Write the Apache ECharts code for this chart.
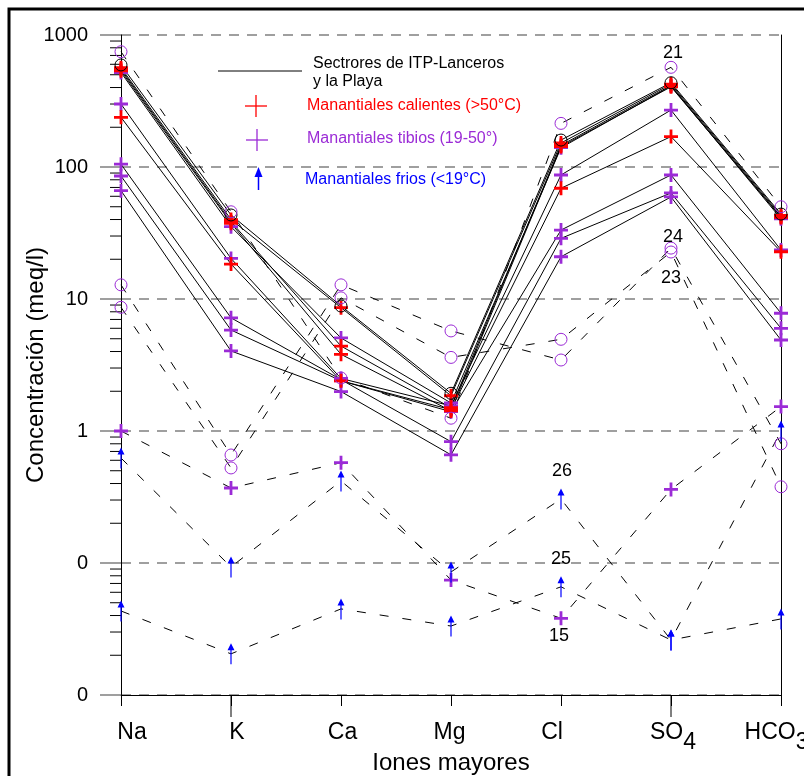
<!DOCTYPE html>
<html>
<head>
<meta charset="utf-8">
<script src="https://cdn.jsdelivr.net/npm/echarts@6/dist/echarts.min.js"></script>
<style>
html, body { margin: 0; padding: 0; background: #fff; overflow: hidden; }
#chart { width: 804px; height: 776px; }
</style>
</head>
<body>
<div id="chart"></div>
<script>
// Major ions, in Schoeller order
const ions = ['Na', 'K', 'Ca', 'Mg', 'Cl', 'SO4', 'HCO3'];

// Sector ITP-Lanceros / La Playa (solid lines), meq/l
const sectorRef = [593, 43.3, 8.85, 1.93, 160, 435, 44];
const hotA = [565, 40, 8.6, 1.85, 152, 425, 43];
const hotB = [550, 38.5, 4.4, 1.5, 146, 415, 42];
const hotC = [535, 37.5, 3.81, 1.42, 143, 405, 41.5];
const hotD = [238, 18.4, 2.4, 1.45, 69, 170, 22.8];
const warmA = [520, 35.3, 5.07, 1.63, 140, 410, 40.5];
const warmB = [300, 20.3, 2.5, 1.55, 87, 270, 23.5];
const warmC = [105, 7.2, 2.45, 0.83, 28.8, 63.6, 6.0];
const warmD = [85.5, 5.82, 2.4, 1.4, 33.3, 87, 7.8];
const warmE = [66.2, 4.04, 1.99, 0.66, 20.9, 59.3, 4.89];

// Springs outside the sector (dashed lines), meq/l
const outerA = [747, 45.8, 2.52, 1.25, 214, 569, 50];
const outerB = [12.8, 0.658, 12.8, 5.73, 3.45, 24.3, 0.80];
const outerC = [8.65, 0.525, 10.2, 3.61, 4.95, 22.7, 0.378];
const warmOut = [1.0, 0.37, 0.575, 0.0743, 0.0381, 0.361, 1.53];
const coldA = [0.624, 0.0933, 0.418, 0.0855, 0.305, 0.0261, 1.0];
const coldB = [0.0433, 0.0205, 0.0449, 0.0333, 0.066, 0.0261, 0.0377];

// Sample numbers written next to a point
const tagOuterA = '21';
const tagOuterB = '24';
const tagOuterC = '23';
const tagWarmOut = '15';
const tagColdA = '26';
const tagColdB = '25';

const FONT = 'Liberation Sans, Arial, Helvetica, sans-serif';
const RED = '#ff0000';
const PURPLE = '#9b2bd6';
const BLUE = '#0000ff';
const GRID_GRAY = '#808080';

const CROSS = 'path://M4,0H6V4H10V6H6V10H4V6H0V4H4Z';
const ARROW = 'path://M3.5,0L7,7H4.1V21H2.9V7H0Z';

const marks = {
  hot:    { symbol: CROSS, symbolSize: 14, itemStyle: { color: RED } },
  warm:   { symbol: CROSS, symbolSize: 14, itemStyle: { color: PURPLE } },
  ring:   { symbol: 'circle', symbolSize: 12, itemStyle: { color: 'rgba(0,0,0,0)', borderColor: PURPLE, borderWidth: 1 } },
  ringK:  { symbol: 'circle', symbolSize: 12, itemStyle: { color: 'rgba(0,0,0,0)', borderColor: '#000', borderWidth: 1 } },
  cold:   { symbol: ARROW, symbolSize: [7, 21], itemStyle: { color: BLUE } }
};

function sample(values, dashed, mark, tag) {
  const m = marks[mark];
  return {
    type: 'line',
    data: values.map(function (v, i) {
      const item = { value: v };
      if (tag && tag.index === i) {
        item.label = {
          show: true, position: 'inside', offset: tag.offset, formatter: tag.text,
          color: '#000', fontSize: 18, fontFamily: FONT
        };
      }
      return item;
    }),
    symbol: m.symbol,
    symbolSize: m.symbolSize,
    symbolKeepAspect: false,
    showAllSymbol: true,
    itemStyle: m.itemStyle,
    lineStyle: { color: '#000', width: 1, type: dashed ? [9, 14] : 'solid' },
    label: { show: false },
    emphasis: { disabled: true },
    silent: true,
    animation: false
  };
}

// Minor ticks of the log axis: 2..9 within each decade
const minorTicks = [];
for (let k = -2; k < 3; k++) {
  for (let m = 2; m <= 9; m++) minorTicks.push([0, m * Math.pow(10, k)]);
}

// Horizontal nudge of each ion label (px, + to the right)
const labelNudge = { Na: 11, K: 6, Ca: 1.5, Mg: -1.5, Cl: -9, SO4: 2, HCO3: -4.5 };

const series = [
  sample(warmE, false, 'warm'),
  sample(warmD, false, 'warm'),
  sample(warmC, false, 'warm'),
  sample(warmB, false, 'warm'),
  sample(hotD, false, 'hot'),
  sample(warmA, false, 'warm'),
  sample(hotC, false, 'hot'),
  sample(hotB, false, 'hot'),
  sample(hotA, false, 'hot'),
  sample(sectorRef, false, 'ringK'),
  sample(outerA, true, 'ring', { index: 5, text: tagOuterA, offset: [2, -14] }),
  sample(outerB, true, 'ring', { index: 5, text: tagOuterB, offset: [2, -11] }),
  sample(outerC, true, 'ring', { index: 5, text: tagOuterC, offset: [0, 26] }),
  sample(warmOut, true, 'warm', { index: 4, text: tagWarmOut, offset: [-2, 18] }),
  sample(coldA, true, 'cold', { index: 4, text: tagColdA, offset: [1, -28] }),
  sample(coldB, true, 'cold', { index: 4, text: tagColdB, offset: [0, -28] }),
  {
    type: 'custom',
    silent: true,
    clip: false,
    animation: false,
    encode: { x: 0, y: 1 },
    data: minorTicks,
    renderItem: function (params, api) {
      const p = api.coord([api.value(0), api.value(1)]);
      return { type: 'line', shape: { x1: p[0] - 11, y1: p[1], x2: p[0], y2: p[1] }, style: { stroke: '#000', lineWidth: 1 } };
    }
  },
  {
    // longer ticks under K and SO4
    type: 'custom',
    silent: true,
    clip: false,
    animation: false,
    encode: { x: 0, y: 1 },
    data: [[1, 0.01], [5, 0.01]],
    renderItem: function (params, api) {
      const p = api.coord([api.value(0), api.value(1)]);
      return { type: 'line', shape: { x1: p[0], y1: p[1], x2: p[0], y2: p[1] + 22 }, style: { stroke: '#000', lineWidth: 1 } };
    }
  }
];

// Rich styles for the ion labels: main part and subscript, with nudge padding
const rich = {};
ions.forEach(function (name) {
  const d = labelNudge[name] || 0;
  const left = d > 0 ? 2 * d : 0;
  const right = d < 0 ? -2 * d : 0;
  const hasSub = name === 'SO4' || name === 'HCO3';
  rich['m' + name] = { fontSize: 23, fontFamily: FONT, color: '#000', padding: [0, hasSub ? 0 : right, 0, left] };
  rich['s' + name] = { fontSize: 23, fontFamily: FONT, color: '#000', padding: [20, right, 0, 0] };
});

const chart = echarts.init(document.getElementById('chart'), null, { renderer: 'canvas', width: 804, height: 776 });

chart.setOption({
  backgroundColor: '#fff',
  animation: false,
  textStyle: { fontFamily: FONT },
  grid: { left: 121, right: 23, top: 35, bottom: 81, containLabel: false, outerBoundsMode: 'none' },
  xAxis: {
    type: 'category',
    data: ions,
    boundaryGap: false,
    axisLine: { show: true, onZero: false, lineStyle: { color: '#000', width: 1 } },
    axisTick: { show: true, length: 11, lineStyle: { color: '#000', width: 1 } },
    splitLine: { show: false },
    axisLabel: {
      interval: 0,
      margin: 38,
      verticalAlign: 'middle',
      hideOverlap: false,
      color: '#000',
      formatter: function (v) {
        if (v === 'SO4') return '{mSO4|SO}{sSO4|4}';
        if (v === 'HCO3') return '{mHCO3|HCO}{sHCO3|3}';
        return '{m' + v + '|' + v + '}';
      },
      rich: rich
    },
    name: 'Iones mayores',
    nameLocation: 'middle',
    nameGap: 56,
    nameMoveOverlap: false,
    nameTextStyle: { fontSize: 24, color: '#000', fontFamily: FONT }
  },
  yAxis: [
    {
      type: 'log',
      logBase: 10,
      min: 0.01,
      max: 1000,
      splitNumber: 5,
      axisLine: { show: true, lineStyle: { color: '#000', width: 1 } },
      axisTick: { show: true, length: 21, lineStyle: { color: GRID_GRAY, width: 1.5 } },
      splitLine: { show: true, lineStyle: { color: GRID_GRAY, width: 1.5, type: [10, 8] } },
      axisLabel: {
        margin: 33,
        fontSize: 20,
        color: '#000',
        fontFamily: FONT,
        formatter: function (v) { return Number(v).toFixed(0); }
      },
      name: 'Concentración (meq/l)',
      nameLocation: 'middle',
      nameGap: 73,
      nameMoveOverlap: false,
      nameTextStyle: { fontSize: 24, color: '#000', fontFamily: FONT }
    },
    {
      type: 'log',
      logBase: 10,
      min: 0.01,
      max: 1000,
      position: 'right',
      axisLine: { show: true, lineStyle: { color: '#000', width: 1 } },
      axisTick: { show: false },
      axisLabel: { show: false },
      splitLine: { show: false }
    }
  ],
  series: series,
  graphic: [
    {
      type: 'rect', silent: true, z: 100,
      shape: { x: 9, y: 9, width: 840, height: 820 },
      style: { fill: 'none', stroke: '#000', lineWidth: 3 }
    },
    // legend: sector line
    { type: 'line', silent: true, shape: { x1: 218, y1: 71, x2: 302, y2: 71 }, style: { stroke: '#000', lineWidth: 1 } },
    {
      type: 'text', silent: true, x: 313, y: 55,
      style: { text: 'Sectrores de ITP-Lanceros\ny la Playa', font: '16px ' + FONT, fill: '#000', lineHeight: 17.5 }
    },
    // legend: hot springs
    { type: 'line', silent: true, shape: { x1: 245, y1: 106, x2: 267, y2: 106 }, style: { stroke: RED, lineWidth: 1.3 } },
    { type: 'line', silent: true, shape: { x1: 256, y1: 95, x2: 256, y2: 117 }, style: { stroke: RED, lineWidth: 1.3 } },
    {
      type: 'text', silent: true, x: 307, y: 106,
      style: { text: 'Manantiales calientes (>50°C)', font: '16px ' + FONT, fill: RED, verticalAlign: 'middle' }
    },
    // legend: warm springs
    { type: 'line', silent: true, shape: { x1: 246, y1: 140, x2: 268, y2: 140 }, style: { stroke: PURPLE, lineWidth: 1.3 } },
    { type: 'line', silent: true, shape: { x1: 257, y1: 129, x2: 257, y2: 151 }, style: { stroke: PURPLE, lineWidth: 1.3 } },
    {
      type: 'text', silent: true, x: 307, y: 139,
      style: { text: 'Manantiales tibios (19-50°)', font: '16px ' + FONT, fill: PURPLE, verticalAlign: 'middle' }
    },
    // legend: cold springs
    { type: 'polygon', silent: true, shape: { points: [[258.5, 167], [262.5, 177], [254.5, 177]] }, style: { fill: BLUE } },
    { type: 'line', silent: true, shape: { x1: 258.5, y1: 176, x2: 258.5, y2: 190 }, style: { stroke: BLUE, lineWidth: 1.5 } },
    {
      type: 'text', silent: true, x: 305, y: 180,
      style: { text: 'Manantiales frios (<19°C)', font: '16px ' + FONT, fill: BLUE, verticalAlign: 'middle' }
    }
  ]
});
</script>
</body>
</html>
